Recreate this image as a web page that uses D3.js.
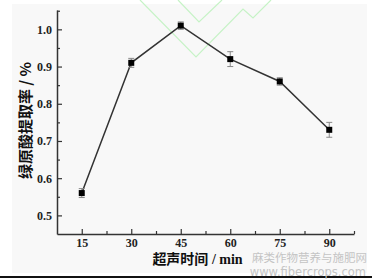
<!DOCTYPE html>
<html>
<head>
<meta charset="utf-8">
<script src="https://cdn.jsdelivr.net/npm/d3@7"></script>
<style>
  html, body { margin: 0; padding: 0; background: #fff; }
  svg { display: block; }
</style>
</head>
<body>
<div id="chart"></div>
<script>
// ultrasonic time (min) vs chlorogenic acid yield (%)
var times = [15, 30, 45, 60, 75, 90];
var yieldPct = [0.56, 0.91, 1.01, 0.92, 0.86, 0.73];
var yieldErr = [0.012, 0.012, 0.01, 0.02, 0.01, 0.02];
var xTicks = [15, 30, 45, 60, 75, 90];
var yTicks = [0.5, 0.6, 0.7, 0.8, 0.9, 1.0];

var W = 372, H = 279;
var margin = {top: 10, right: 18, bottom: 45, left: 57},
    width = W - margin.left - margin.right,
    height = H - margin.top - margin.bottom;

var svg = d3.select("#chart").append("svg")
    .attr("width", W)
    .attr("height", H);

// scanned page look: pale panel + black rule at the bottom
svg.append("rect")
    .attr("x", 12).attr("y", 4)
    .attr("width", 355).attr("height", 269)
    .attr("fill", "#f8f8f8");
svg.append("line")
    .attr("x1", 0).attr("x2", W)
    .attr("y1", 277).attr("y2", 277)
    .attr("stroke", "#111").attr("stroke-width", 2);

// faint green watermark strokes
var greenLines = [
  [[140, 0], [196, 57], [243, 9], [253, 18], [271, 0]],
  [[178, 0], [199, 22], [222, 0]]
];
svg.selectAll(".wm-line")
  .data(greenLines)
  .enter().append("path")
    .attr("class", "wm-line")
    .attr("d", d3.line())
    .attr("fill", "none")
    .attr("stroke", "#c6f3c6")
    .attr("stroke-width", 1.2);

var g = svg.append("g")
    .attr("transform", "translate(" + margin.left + "," + margin.top + ")");

var x = d3.scaleLinear()
    .domain([7.5, 97.5])
    .range([0, width]);

var y = d3.scaleLinear()
    .domain([0.45, 1.052])
    .range([height, 0]);

var serif = "'Liberation Serif', 'Times New Roman', serif";

// x axis, ticks pointing inward
g.append("g")
    .attr("transform", "translate(0," + height + ")")
    .call(d3.axisBottom(x).tickValues(xTicks).tickSizeInner(-5).tickSizeOuter(0).tickPadding(4));
g.append("g")
    .attr("transform", "translate(0," + height + ")")
    .call(d3.axisBottom(x).tickValues(d3.range(22.5, 98, 15)).tickSizeInner(-3).tickSizeOuter(0).tickFormat(""))
    .select(".domain").remove();

g.append("g")
    .call(d3.axisLeft(y).tickValues(yTicks).tickSizeInner(-5).tickSizeOuter(0).tickPadding(5)
      .tickFormat(d3.format(".1f")));
g.append("g")
    .call(d3.axisLeft(y).tickValues([0.55, 0.65, 0.75, 0.85, 0.95, 1.05]).tickSizeInner(-3).tickSizeOuter(0).tickFormat(""))
    .select(".domain").remove();

g.selectAll(".domain").attr("stroke", "#333").attr("stroke-width", 1.5);
g.selectAll(".tick line").attr("stroke", "#333").attr("stroke-width", 1.2);
g.selectAll(".tick text")
    .attr("fill", "#222")
    .style("font-family", serif)
    .style("font-weight", "bold")
    .style("font-size", "12px");

// line
var line = d3.line()
    .x(function(d, i) { return x(times[i]); })
    .y(function(d) { return y(d); });

g.append("path")
    .datum(yieldPct)
    .attr("d", line)
    .attr("fill", "none")
    .attr("stroke", "#333")
    .attr("stroke-width", 1.5);

// error bars
var eb = g.selectAll(".err")
  .data(yieldPct)
  .enter().append("g")
    .attr("class", "err")
    .attr("stroke", "#888")
    .attr("stroke-width", 1);
eb.append("line")
    .attr("x1", function(d, i) { return x(times[i]); })
    .attr("x2", function(d, i) { return x(times[i]); })
    .attr("y1", function(d, i) { return y(d - yieldErr[i]); })
    .attr("y2", function(d, i) { return y(d + yieldErr[i]); });
eb.selectAll(".cap")
  .data(function(d, i) { return [[times[i], d - yieldErr[i]], [times[i], d + yieldErr[i]]]; })
  .enter().append("line")
    .attr("x1", function(d) { return x(d[0]) - 3; })
    .attr("x2", function(d) { return x(d[0]) + 3; })
    .attr("y1", function(d) { return y(d[1]); })
    .attr("y2", function(d) { return y(d[1]); });

// square markers
g.selectAll(".pt")
  .data(yieldPct)
  .enter().append("rect")
    .attr("class", "pt")
    .attr("x", function(d, i) { return x(times[i]) - 3; })
    .attr("y", function(d) { return y(d) - 3; })
    .attr("width", 6)
    .attr("height", 6)
    .attr("fill", "#000");

// axis titles
svg.append("text")
    .attr("x", margin.left + x(52.5) - 8)
    .attr("y", 264)
    .attr("text-anchor", "middle")
    .attr("fill", "#111")
    .style("font-weight", "bold")
    .style("font-size", "14px")
    .html("<tspan style=\"font-family:'Noto Sans CJK SC'\">超声时间</tspan><tspan style=\"font-family:" + serif.replace(/'/g, "&quot;") + "\"> / min</tspan>");

svg.append("text")
    .attr("transform", "translate(31," + (margin.top + y(0.755)) + ") rotate(-90)")
    .attr("text-anchor", "middle")
    .attr("fill", "#111")
    .style("font-weight", "bold")
    .style("font-size", "15px")
    .style("font-family", "'Noto Sans CJK SC'")
    .text("绿原酸提取率 / %");

// watermark text
svg.append("text")
    .attr("x", 367).attr("y", 262)
    .attr("text-anchor", "end")
    .attr("fill", "#c4c4c4")
    .style("font-family", "'Noto Sans CJK SC'")
    .style("font-size", "11.5px")
    .text("麻类作物营养与施肥网");
svg.append("text")
    .attr("x", 366).attr("y", 275.5)
    .attr("text-anchor", "end")
    .attr("fill", "#c4c4c4")
    .style("font-family", "'DejaVu Sans', sans-serif")
    .style("font-size", "11.5px")
    .text("www.fibercrops.com");
</script>
</body>
</html>
